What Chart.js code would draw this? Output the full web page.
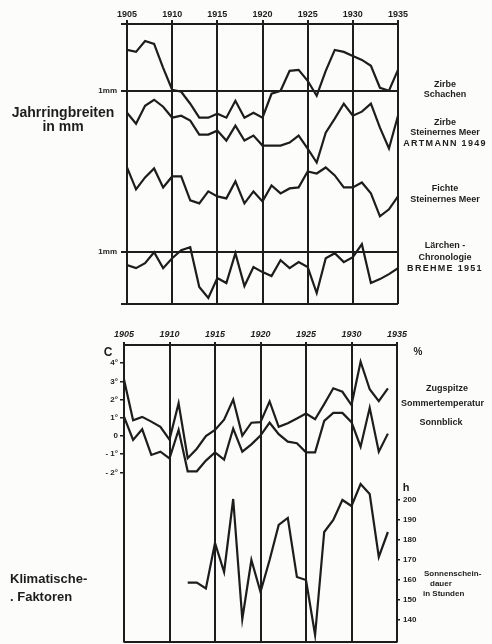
<!DOCTYPE html>
<html>
<head>
<meta charset="utf-8">
<script src="https://cdn.jsdelivr.net/npm/chart.js@4.4.1/dist/chart.umd.min.js"></script>
<style>
  body { margin: 0; background: #fcfcfb; width: 492px; height: 644px; position: relative; overflow: hidden;
         font-family: "Liberation Sans", Arial, sans-serif; color: #1d1d1d; }
  .box { position: absolute; left: 0; width: 492px; }
  .t { position: absolute; white-space: nowrap; line-height: 1; transform: translate(-50%, -50%); font-weight: bold; }
  .l { transform: translate(0, -50%); }
  .s { font-size: 8px; }
  .m { font-size: 9px; }
</style>
</head>
<body>
<div class="box" style="top:0;height:315px"><canvas id="topChart" width="492" height="315"></canvas></div>
<div class="box" style="top:315px;height:329px"><canvas id="botChart" width="492" height="329"></canvas></div>

<!-- Beschriftungen oben -->
<div class="t" style="left:63px;top:112px;font-size:14px">Jahrringbreiten</div>
<div class="t" style="left:63px;top:126px;font-size:14px">in mm</div>
<div class="t m" style="left:445px;top:84px">Zirbe</div>
<div class="t m" style="left:445px;top:94px">Schachen</div>
<div class="t m" style="left:445px;top:122px">Zirbe</div>
<div class="t m" style="left:445px;top:132px">Steinernes Meer</div>
<div class="t" style="left:445px;top:143px;font-size:9px;letter-spacing:1.3px">ARTMANN 1949</div>
<div class="t m" style="left:445px;top:188px">Fichte</div>
<div class="t m" style="left:445px;top:199px">Steinernes Meer</div>
<div class="t m" style="left:445px;top:245px">Lärchen -</div>
<div class="t m" style="left:445px;top:257px">Chronologie</div>
<div class="t" style="left:445px;top:268px;font-size:9px;letter-spacing:1.3px">BREHME 1951</div>

<!-- Beschriftungen unten -->
<div class="t" style="left:108px;top:352px;font-size:12px">C</div>
<div class="t" style="left:418px;top:352px;font-size:10px">%</div>
<div class="t m" style="left:447px;top:388px">Zugspitze</div>
<div class="t m l" style="left:401px;top:403px">Sommertemperatur</div>
<div class="t m" style="left:441px;top:422px">Sonnblick</div>
<div class="t" style="left:406px;top:487px;font-size:11px">h</div>
<div class="t s l" style="left:424px;top:574px">Sonnenschein-</div>
<div class="t s l" style="left:430px;top:584px">dauer</div>
<div class="t s l" style="left:423px;top:594px">in Stunden</div>
<div class="t l" style="left:10px;top:578px;font-size:13px">Klimatische-</div>
<div class="t l" style="left:10px;top:596px;font-size:13px">. Faktoren</div>

<script>
// Jahre
const years = [1905, 1906, 1907, 1908, 1909, 1910, 1911, 1912, 1913, 1914,
               1915, 1916, 1917, 1918, 1919, 1920, 1921, 1922, 1923, 1924,
               1925, 1926, 1927, 1928, 1929, 1930, 1931, 1932, 1933, 1934, 1935];

// Jahrringbreiten (relative Einheiten der Zeichnung, Kurven übereinander versetzt)
const zirbeSchachen = [25.5, 25.3, 26.4, 26.1, 23.7, 21.5, 21.3, 20.1, 18.7, 18.7,
                       19.1, 18.7, 20.4, 18.7, 19.2, 18.7, 21.1, 21.4, 23.4, 23.5,
                       22.4, 20.9, 23.4, 25.5, 25.3, 24.9, 24.5, 23.9, 21.7, 21.4, 23.5];
const zirbeSteinMeer = [19.2, 18.1, 19.9, 20.5, 19.8, 18.7, 18.9, 18.4, 17.0, 17.0,
                        17.4, 16.4, 17.9, 16.4, 16.9, 15.9, 15.9, 15.9, 16.2, 16.9,
                        15.6, 14.2, 17.2, 18.6, 20.1, 18.9, 19.3, 20.1, 17.7, 15.6, 18.9];
const fichteSteinMeer = [13.7, 11.5, 12.7, 13.6, 11.7, 12.8, 12.8, 10.4, 10.1, 11.3,
                         10.8, 10.6, 12.3, 10.1, 11.3, 10.3, 11.9, 11.1, 11.6, 11.7,
                         13.3, 13.1, 13.7, 12.9, 11.7, 11.7, 12.2, 11.1, 8.8, 9.5, 10.8];
const laerchenBrehme = [3.9, 3.6, 4.1, 5.2, 3.6, 4.6, 5.4, 5.7, 1.7, 0.6,
                        2.6, 2.1, 5.1, 1.8, 3.7, 3.2, 2.8, 4.4, 3.6, 4.2,
                        3.7, 1.1, 4.6, 5.1, 4.2, 4.7, 6.0, 2.1, 2.5, 3.0, 3.6];
const mmLines = [5.2, 21.4];

// Sommertemperatur (°C) und Sonnenscheindauer (h)
const zugspitze = [3.1, 0.86, 1.05, 0.79, 0.5, -0.2, 1.8, -1.22, -0.7, 0.0,
                   0.33, 0.9, 2.0, 0.02, 0.73, 0.76, 1.9, 0.5, 0.7, 0.96,
                   1.23, 0.92, 1.75, 2.62, 2.43, 1.7, 4.08, 2.57, 1.92, 2.62, null];
const sonnblick = [1.06, -0.22, 0.37, -1.04, -0.86, -1.23, 0.33, -1.94, -1.94, -1.35,
                   -0.9, -1.3, 0.41, -0.86, -0.46, 0.02, 0.73, 0.1, -0.31, -0.4,
                   -0.9, -0.9, 0.83, 1.27, 1.27, 0.76, -0.59, 1.55, -0.86, 0.13, null];
const sonnenschein = [null, null, null, null, null, null, null, 158.7, 158.7, 155.8,
                      178.5, 164, 200.5, 140.5, 170, 154, 170, 187.5, 191, 161.5,
                      160, 132.5, 184, 190, 200, 197, 208, 203, 171.5, 184, null];
const tempTicks = [-2, -1, 0, 1, 2, 3, 4];
const sunTicks = [140, 150, 160, 170, 180, 190, 200];

const ink = '#1d1d1d';
const pts = arr => years.map((y, i) => ({ x: y, y: arr[i] }));
const line = (data, axis) => ({
    data: pts(data), yAxisID: axis, borderColor: ink, borderWidth: 2.2,
    pointRadius: 0, tension: 0, spanGaps: false, fill: false
});
// feste Breite, keine Zusatzpolster für Beschriftungen
const fixWidth = w => s => { s.width = w; s.paddingTop = 0; s.paddingBottom = 0; };

const commonOpts = {
    responsive: false,
    animation: false,
    plugins: { legend: { display: false }, tooltip: { enabled: false } },
};

// oberes Diagramm: Jahrringe
new Chart(document.getElementById('topChart'), {
    type: 'line',
    data: {
        datasets: [
            line(zirbeSchachen, 'y'),
            line(zirbeSteinMeer, 'y'),
            line(fichteSteinMeer, 'y'),
            line(laerchenBrehme, 'y')
        ]
    },
    options: {
        ...commonOpts,
        layout: { padding: { left: 0, right: 94, top: 0, bottom: 11 } },
        scales: {
            x: {
                type: 'linear', position: 'top', min: 1905, max: 1935,
                afterFit: s => { s.height = 24; },
                ticks: { stepSize: 5, padding: 0, color: ink, font: { family: 'Liberation Sans', size: 9, weight: 'bold' },
                         callback: v => String(v) },
                grid: { color: ink, lineWidth: 2, tickLength: 4 },
                border: { color: ink, width: 2 }
            },
            y: {
                min: 0, max: 28.1,
                afterFit: fixWidth(127),
                afterBuildTicks: s => { s.ticks = [0, ...mmLines, 28.1].map(v => ({ value: v })); },
                ticks: { padding: 4, color: ink, font: { family: 'Liberation Sans', size: 8, weight: 'bold' },
                         callback: v => mmLines.includes(v) ? '1mm' : '' },
                grid: { color: ink, lineWidth: 2, tickLength: 6 },
                border: { color: ink, width: 2 }
            }
        }
    }
});

// unteres Diagramm: Klimafaktoren
new Chart(document.getElementById('botChart'), {
    type: 'line',
    data: {
        datasets: [
            line(zugspitze, 'yT'),
            line(sonnblick, 'yT'),
            line(sonnenschein, 'yS')
        ]
    },
    options: {
        ...commonOpts,
        layout: { padding: { left: 0, right: 0, top: 0, bottom: 2 } },
        scales: {
            x: {
                type: 'linear', position: 'top', min: 1905, max: 1935,
                afterFit: s => { s.height = 30; },
                ticks: { stepSize: 5, padding: 2, color: ink, font: { family: 'Liberation Sans', size: 9, style: 'italic', weight: 'bold' },
                         callback: v => String(v) },
                grid: { color: ink, lineWidth: 2, tickLength: 3 },
                border: { color: ink, width: 2 }
            },
            yT: {
                position: 'left', min: -11.32, max: 5.0,
                afterFit: fixWidth(124),
                afterBuildTicks: s => { s.ticks = tempTicks.map(v => ({ value: v })); },
                ticks: { padding: 2, color: ink, font: { family: 'Liberation Sans', size: 8, weight: 'bold' },
                         callback: v => v === 0 ? '0' : (v < 0 ? '- ' + Math.abs(v) + '°' : v + '°') },
                grid: { drawOnChartArea: false, color: ink, lineWidth: 1.5, tickLength: 4 },
                border: { color: ink, width: 2 }
            },
            // nur für die untere Rahmenlinie
            yB: {
                position: 'left', min: 0, max: 1,
                afterFit: fixWidth(0),
                afterBuildTicks: s => { s.ticks = [{ value: 0 }]; },
                ticks: { display: false },
                grid: { color: ink, lineWidth: 2, tickLength: 0 },
                border: { display: false }
            },
            yS: {
                position: 'right', min: 129, max: 277.5,
                afterFit: fixWidth(95),
                afterBuildTicks: s => { s.ticks = sunTicks.map(v => ({ value: v })); },
                ticks: { padding: 3, color: ink, font: { family: 'Liberation Sans', size: 8, weight: 'bold' },
                         callback: v => String(v) },
                grid: { drawOnChartArea: false, color: ink, lineWidth: 1.5, tickLength: 3 },
                border: { color: ink, width: 2 }
            }
        }
    }
});
</script>
</body>
</html>
